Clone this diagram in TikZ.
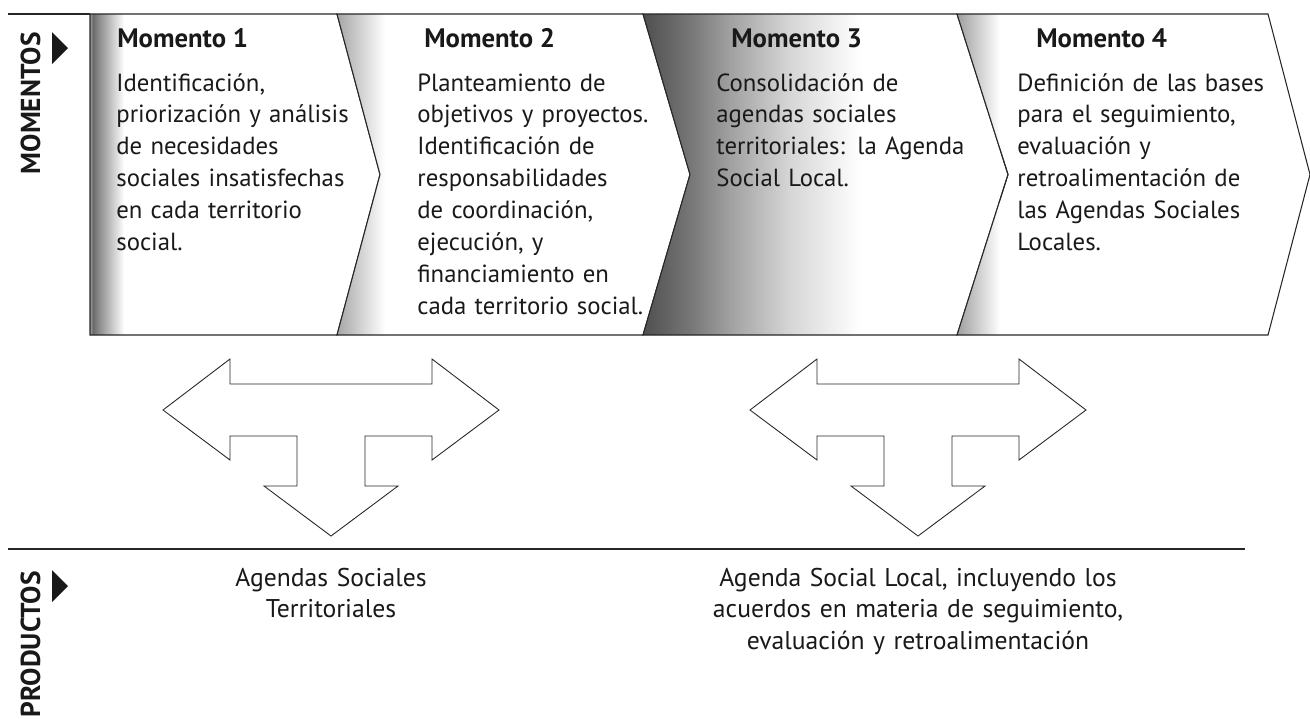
\documentclass[tikz,border=0pt]{standalone}
\usepackage{fontspec}
\setmainfont{PT Sans}
\usetikzlibrary{positioning,calc}

\tikzset{
    chevline/.style={draw=black!85, line width=0.6pt, line join=miter},
    headtxt/.style={anchor=base west, inner sep=0pt, text=black!90,
        font=\fontsize{15.2}{18}\selectfont\bfseries},
    bodytxt/.style={anchor=base west, inner sep=0pt, text=black!90,
        text width=6cm, align=left, font=\fontsize{14.1}{18.2}\selectfont},
    prodtxt/.style={anchor=base, inner sep=0pt, text=black!90,
        text width=10cm, align=center, font=\fontsize{14.6}{18.1}\selectfont},
    sidetxt/.style={rotate=90, anchor=base east, inner sep=0pt, text=black!90,
        font=\fontsize{15.6}{16}\selectfont\bfseries},
    tarrow/.style={draw=black!85, line width=0.5pt, fill=white},
}

\begin{document}
\begin{tikzpicture}[x=0.02cm, y=-0.02cm]
    \useasboundingbox (0,0) rectangle (1310,718);

    % shaded chevrons (left edge, tip, right edge, tip, shading steps)
    \foreach \xl/\tl/\xr/\tr/\segs in {
        90/90/337/380/{90/93/38/58,93/99/58/45,99/124/45/0},
        337/380/643/690/{337/385/35/0},
        643/690/957/1008/{643/692/69/53,692/730/53/37,730/790/37/16,790/860/16/0},
        957/1008/1268/1310/{957/1000/38/0}} {
        \begin{scope}
            \clip (\xl,14) -- (\xr,14) -- (\tr,174.5) -- (\xr,335) -- (\xl,335) -- (\tl,174.5) -- cycle;
            \foreach \sa/\sb/\ga/\gb in \segs {
                \shade[left color=black!\ga, right color=black!\gb] (\sa,10) rectangle (\sb,340);
            }
        \end{scope}
        \draw[chevline] (\xl,14) -- (\xr,14) -- (\tr,174.5) -- (\xr,335) -- (\xl,335) -- (\tl,174.5) -- cycle;
    }
    \draw[chevline] (8,14) -- (90,14);

    % side labels
    \node[sidetxt] (momentos) at (40,32) {MOMENTOS};
    \node[sidetxt] (productos) at (40,571) {PRODUCTOS};
    \fill[black!90] (52,32) -- (68,48) -- (52,64) -- cycle;
    \fill[black!90] (52,570) -- (68,586) -- (52,602) -- cycle;

    % headers
    \node[headtxt] (m1) at (117,47) {Momento 1};
    \node[headtxt] (m2) at (424,47) {Momento 2};
    \node[headtxt] (m3) at (731,47) {Momento 3};
    \node[headtxt] (m4) at (1036,47) {Momento 4};

    % texts of the moments
    \node[bodytxt] (t1) at (116,91) {Identificación,\\priorización y análisis\\de necesidades\\sociales insatisfechas\\en cada territorio\\social.};
    \node[bodytxt] (t2) at (417,91) {Planteamiento de\\objetivos y proyectos.\\Identificación de\\responsabilidades\\de coordinación,\\ejecución, y\\financiamiento en\\cada territorio social.};
    \node[bodytxt] (t3) at (716,91) {Consolidación de\\agendas sociales\\territoriales: la Agenda\\Social Local.};
    \node[bodytxt] (t4) at (1017,91) {Definición de las bases\\para el seguimiento,\\evaluación y\\retroalimentación de\\las Agendas Sociales\\Locales.};

    % T arrows
    \foreach \cx in {331,918} {
        \draw[tarrow] (\cx-168,410) -- (\cx-101,359) -- (\cx-101,384) -- (\cx+101,384) -- (\cx+101,359)
            -- (\cx+168,410) -- (\cx+101,460) -- (\cx+101,436) -- (\cx+34,436) -- (\cx+34,486)
            -- (\cx+67,486) -- (\cx,536) -- (\cx-67,486) -- (\cx-34,486) -- (\cx-34,436)
            -- (\cx-101,436) -- (\cx-101,460) -- cycle;
    }

    % products
    \draw[chevline] (8,549) -- (1245,549);
    \node[prodtxt] (p1) at (331,586) {Agendas Sociales\\Territoriales};
    \node[prodtxt] (p2) at (918,586) {Agenda Social Local, incluyendo los\\acuerdos en materia de seguimiento,\\evaluación y retroalimentación};
\end{tikzpicture}
\end{document}
